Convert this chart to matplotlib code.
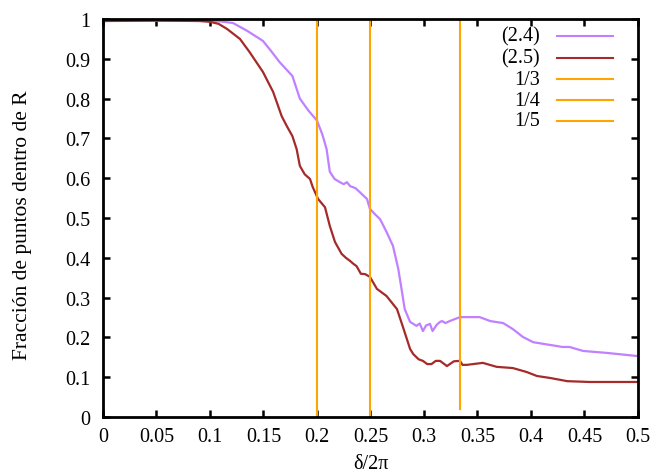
import matplotlib
matplotlib.use('Agg')
import matplotlib.pyplot as plt
from matplotlib.lines import Line2D

plt.rcParams['font.family'] = ['Liberation Serif', 'DejaVu Serif']
plt.rcParams['mathtext.fontset'] = 'stix'

# (2.4) curve
x_24 = [0.0, 0.02, 0.05, 0.08, 0.10, 0.11, 0.1215, 0.135, 0.1495, 0.157, 0.165, 0.177,
        0.184, 0.192, 0.2, 0.205, 0.209, 0.212, 0.2165, 0.2215, 0.225, 0.228, 0.231,
        0.236, 0.240, 0.2467, 0.2495, 0.254, 0.259, 0.265, 0.271, 0.276, 0.279, 0.282,
        0.287, 0.290, 0.293, 0.296, 0.299, 0.302, 0.3056, 0.308, 0.312, 0.315, 0.317,
        0.320, 0.324, 0.3336, 0.352, 0.362, 0.374, 0.383, 0.3925, 0.402, 0.418, 0.425,
        0.429, 0.436, 0.4486, 0.471, 0.5]
y_24 = [0.995, 0.996, 0.996, 0.996, 0.995, 0.994, 0.99, 0.97, 0.945, 0.92, 0.892, 0.857,
        0.80, 0.77, 0.745, 0.71, 0.673, 0.616, 0.598, 0.590, 0.585, 0.590, 0.580,
        0.575, 0.565, 0.548, 0.523, 0.51, 0.497, 0.465, 0.43, 0.372, 0.322, 0.271,
        0.239, 0.234, 0.229, 0.235, 0.216, 0.230, 0.234, 0.216, 0.232, 0.239, 0.241,
        0.236, 0.241, 0.251, 0.251, 0.241, 0.236, 0.221, 0.201, 0.188, 0.181, 0.178,
        0.176, 0.176, 0.166, 0.161, 0.153]

# (2.5) curve
x_25 = [0.0, 0.05, 0.09, 0.1, 0.108, 0.116, 0.128, 0.137, 0.1495, 0.159, 0.167, 0.172,
        0.177, 0.181, 0.184, 0.1885, 0.1935, 0.196, 0.201, 0.2075, 0.212, 0.2168, 0.223,
        0.227, 0.231, 0.234, 0.237, 0.241, 0.245, 0.2495, 0.256, 0.265, 0.2748, 0.280,
        0.284, 0.287, 0.290, 0.295, 0.299, 0.303, 0.307, 0.311, 0.315, 0.3215, 0.328,
        0.3336, 0.336, 0.340, 0.355, 0.368, 0.383, 0.396, 0.4056, 0.418, 0.434, 0.455, 0.5]
y_25 = [0.995, 0.996, 0.995, 0.993, 0.988, 0.975, 0.95, 0.917, 0.867, 0.817, 0.756, 0.73,
        0.706, 0.673, 0.631, 0.610, 0.598, 0.578, 0.548, 0.527, 0.48, 0.44, 0.41,
        0.40, 0.392, 0.385, 0.379, 0.36, 0.359, 0.352, 0.322, 0.304, 0.271, 0.229,
        0.196, 0.171, 0.158, 0.145, 0.141, 0.133, 0.133, 0.141, 0.141, 0.128, 0.140,
        0.141, 0.131, 0.131, 0.136, 0.126, 0.123, 0.113, 0.103, 0.098, 0.09, 0.088, 0.088]

# vertical reference lines
vlabels = ['1/3', '1/4', '1/5']
vx = [1/3, 1/4, 1/5]
vy_bottom = [0.02, 0.005, 0.005]
vy_top = [1.0, 1.0, 1.0]

xticks = [0, 0.05, 0.1, 0.15, 0.2, 0.25, 0.3, 0.35, 0.4, 0.45, 0.5]
xticklabels = ['0', '0.05', '0.1', '0.15', '0.2', '0.25', '0.3', '0.35', '0.4', '0.45', '0.5']
yticks = [0, 0.1, 0.2, 0.3, 0.4, 0.5, 0.6, 0.7, 0.8, 0.9, 1]
yticklabels = ['0', '0.1', '0.2', '0.3', '0.4', '0.5', '0.6', '0.7', '0.8', '0.9', '1']

c_24 = '#c080ff'
c_25 = '#a52a2a'
c_v = '#ffa500'
fs = 14.5

fig = plt.figure(figsize=(6.53, 4.77), dpi=100)
ax = fig.add_axes([0.1577, 0.1237, 0.977 - 0.1577, 0.958 - 0.1237])

ax.plot(x_24, y_24, color=c_24, lw=1.6)
ax.plot(x_25, y_25, color=c_25, lw=1.6)
for xv, yb, yt in zip(vx, vy_bottom, vy_top):
    ax.plot([xv, xv], [yb, yt], color=c_v, lw=1.5)

ax.set_xlim(0, 0.5)
ax.set_ylim(0, 1)
ax.set_xticks(xticks)
ax.set_xticklabels(xticklabels)
ax.set_yticks(yticks)
ax.set_yticklabels(yticklabels)
ax.tick_params(direction='in', length=5, width=1.8, top=True, right=True,
               labelsize=fs)
ax.tick_params(axis='x', pad=7)
ax.tick_params(axis='y', pad=9)
for s in ax.spines.values():
    s.set_linewidth(2)

ax.set_xlabel('δ/2π', fontsize=fs, va='center')
ax.xaxis.set_label_coords(0.5, -0.117)
ax.set_ylabel('Fracción de puntos dentro de R', fontsize=15.5, va='center')
ax.yaxis.set_label_coords(-0.15, 0.485)

# hand-made legend: label right-aligned, sample to the right
labels = ['(2.4)', '(2.5)'] + vlabels
colors = [c_24, c_25, c_v, c_v, c_v]
ys = [0.957, 0.902, 0.849, 0.796, 0.744]
for lab, col, yy in zip(labels, colors, ys):
    ax.text(0.817, yy, lab, transform=ax.transAxes, ha='right', va='center', fontsize=fs)
    ax.add_line(Line2D([0.849, 0.953], [yy, yy], transform=ax.transAxes, color=col, lw=1.5))

fig.savefig('out.png', dpi=100)
